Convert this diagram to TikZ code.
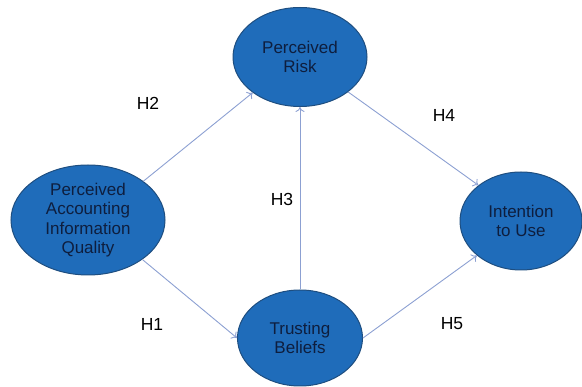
\documentclass[tikz,border=0pt]{standalone}
\usepackage{fontspec}
\setmainfont{Liberation Sans}
\usepackage{xcolor}
\usepackage{tikz}
\usetikzlibrary{shapes.geometric,arrows.meta}
\definecolor{ovalfill}{RGB}{31,108,186}
\definecolor{ovalline}{RGB}{30,78,128}
\definecolor{ovaltext}{RGB}{14,30,62}
\definecolor{arrowline}{RGB}{140,160,210}

\begin{document}
\begin{tikzpicture}[inner sep=0pt,
  oval/.style={shape=ellipse, fill=ovalfill, draw=ovalline, line width=1.0pt, align=center, text=ovaltext, font=\fontsize{17}{19.5}\selectfont},
  hyp/.style={font=\fontsize{17.5}{19}\selectfont, text=black},
  link/.style={-{To[length=5pt,width=9pt]}, line width=0.9pt, draw=arrowline}]
\useasboundingbox (0pt,0pt) rectangle (582pt,-387pt);
\node (n0) [oval, minimum width=154pt, minimum height=110pt, at={(88pt,-220pt)}] {Perceived\\Accounting\\Information\\Quality};
\node (n1) [oval, minimum width=134pt, minimum height=99pt, at={(300pt,-57pt)}] {Perceived\\Risk};
\node (n2) [oval, minimum width=125pt, minimum height=96pt, at={(300pt,-338pt)}] {Trusting\\Beliefs};
\node (n3) [oval, minimum width=122pt, minimum height=98pt, at={(521pt,-221pt)}] {Intention\\to Use};
\node (h1) [hyp, at={(152pt,-324pt)}] {H1};
\node (h2) [hyp, at={(148pt,-103pt)}] {H2};
\node (h3) [hyp, at={(282pt,-199pt)}] {H3};
\node (h4) [hyp, at={(444pt,-115pt)}] {H4};
\node (h5) [hyp, at={(452pt,-324pt)}] {H5};


\path [link](n0.35)--(n1.217);


\path [link](n0.-36)--(n2.west);


\path [link](n2.north)--(n1.south);


\path [link](n1.-36)--(n3.140);


\path [link](n2.east)--(n3.218);
\end{tikzpicture}
\end{document}
